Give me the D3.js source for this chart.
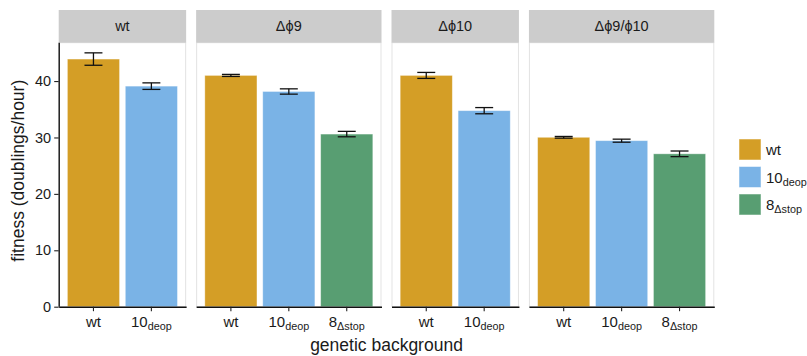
<!DOCTYPE html>
<html><head><meta charset="utf-8">
<script src="https://cdn.jsdelivr.net/npm/d3@7"></script>
<style>
body{margin:0;background:#fff;}
text{font-family:"Liberation Sans",Arial,Helvetica,sans-serif;}
</style></head>
<body><svg id="chart" width="807" height="356"></svg>
<script>
// ---- data ----
const panels = ["wt", "Δϕ9", "Δϕ10", "Δϕ9/ϕ10"];
const genotypes = ["wt", "10deop", "8stop"];
const panelGenotypes = [
  ["wt", "10deop"],
  ["wt", "10deop", "8stop"],
  ["wt", "10deop"],
  ["wt", "10deop", "8stop"]
];
const means = [
  [43.9, 39.1],
  [41.0, 38.15, 30.6],
  [41.0, 34.75],
  [30.03, 29.43, 27.1]
];
const errors = [
  [1.1, 0.58],
  [0.18, 0.47, 0.48],
  [0.53, 0.55],
  [0.15, 0.27, 0.5]
];
const yTicks = [0, 10, 20, 30, 40];
const genoLabel = {"wt": ["wt", ""], "10deop": ["10", "deop"], "8stop": ["8", "Δstop"]};
const colors = ["#D49E26", "#7AB3E6", "#589E72"];

// ---- layout ----
const svg = d3.select("#chart");
const pLeft = 58.7, pRight = 714.3, pTop = 42.7, pBottom = 306.7, stripTop = 10, gap = 10;
const color = d3.scaleOrdinal().domain(genotypes).range(colors);
const y = d3.scaleLinear().domain([0, 46.8]).range([pBottom, pTop]);

const units = panelGenotypes.map(g => g.length + 0.2);
const unit = (pRight - pLeft - gap * (panels.length - 1)) / d3.sum(units);
let x0 = pLeft;
const panelPos = units.map(u => { const p = {x: x0, w: u * unit}; x0 += u * unit + gap; return p; });

function subLabel(sel, main, sub, size) {
  sel.append("tspan").text(main);
  if (sub) sel.append("tspan").attr("dy", size * 0.22).attr("font-size", size * 0.72).text(sub);
}

panels.forEach((pn, i) => {
  const P = panelPos[i];
  const g = svg.append("g").attr("transform", `translate(${P.x},0)`);
  const x = d3.scaleBand().domain(panelGenotypes[i]).range([0, P.w]).paddingInner(0.1).paddingOuter(0.15);
  // panel border
  g.append("rect").attr("x", 0.5).attr("y", pTop).attr("width", P.w - 1).attr("height", pBottom - pTop)
    .attr("fill", "none").attr("stroke", "#E3E3E3").attr("stroke-width", 1);
  // strip
  g.append("rect").attr("x", 0).attr("y", stripTop).attr("width", P.w).attr("height", pTop - stripTop)
    .attr("fill", "#CCCCCC");
  g.append("text").attr("x", P.w / 2).attr("y", (stripTop + pTop) / 2 + 5).attr("text-anchor", "middle")
    .attr("font-size", 14.5).attr("fill", "#1a1a1a").text(pn);
  const rows = panelGenotypes[i].map((k, j) => ({k, m: means[i][j], e: errors[i][j]}));
  // bars
  g.selectAll("rect.bar").data(rows).enter().append("rect").attr("class", "bar")
    .attr("x", d => x(d.k)).attr("width", x.bandwidth())
    .attr("y", d => y(d.m)).attr("height", d => y(0) - y(d.m))
    .attr("fill", d => color(d.k)).attr("stroke", "rgba(255,255,255,0.45)").attr("stroke-width", 0.8);
  // error bars
  const cap = x.step() * 0.155;
  rows.forEach(d => {
    const cx = x(d.k) + x.bandwidth() / 2;
    const eg = g.append("g").attr("stroke", "#111").attr("stroke-width", 1.3).attr("fill", "none");
    eg.append("line").attr("x1", cx).attr("x2", cx).attr("y1", y(d.m + d.e)).attr("y2", y(d.m - d.e));
    eg.append("line").attr("x1", cx - cap).attr("x2", cx + cap).attr("y1", y(d.m + d.e)).attr("y2", y(d.m + d.e));
    eg.append("line").attr("x1", cx - cap).attr("x2", cx + cap).attr("y1", y(d.m - d.e)).attr("y2", y(d.m - d.e));
  });
  // x axis
  const ax = g.append("g").attr("transform", `translate(0,${pBottom})`)
    .call(d3.axisBottom(x).tickSize(4.5).tickSizeOuter(0).tickFormat(""));
  ax.select(".domain").attr("stroke", "#111").attr("stroke-width", 1.4);
  ax.selectAll(".tick line").attr("stroke", "#222").attr("stroke-width", 1.1);
  panelGenotypes[i].forEach(k => {
    const t = g.append("text").attr("x", x(k) + x.bandwidth() / 2).attr("y", pBottom + 20)
      .attr("text-anchor", "middle").attr("font-size", 15).attr("fill", "#1a1a1a");
    subLabel(t, genoLabel[k][0], genoLabel[k][1], 15);
  });
  if (i === 0) {
    const ay = g.append("g").call(d3.axisLeft(y).tickValues(yTicks).tickSize(4.5).tickSizeOuter(0).tickPadding(3));
    ay.select(".domain").attr("stroke", "#111").attr("stroke-width", 1.4).attr("d", `M0.5,${pTop}V${pBottom}`);
    ay.selectAll(".tick line").attr("stroke", "#222").attr("stroke-width", 1.1);
    ay.selectAll(".tick text").attr("font-size", 14.5).attr("fill", "#1a1a1a")
      .attr("font-family", '"Liberation Sans",Arial,sans-serif');
  }
});

// axis titles
svg.append("text").attr("x", (pLeft + pRight) / 2).attr("y", 351).attr("text-anchor", "middle")
  .attr("font-size", 17.5).attr("fill", "#1a1a1a").text("genetic background");
svg.append("text").attr("transform", `translate(24,${(pTop + pBottom) / 2 - 4}) rotate(-90)`)
  .attr("text-anchor", "middle").attr("font-size", 17.5).attr("fill", "#1a1a1a").text("fitness (doublings/hour)");

// legend
const lg = svg.append("g").attr("transform", "translate(739,139)");
genotypes.forEach((k, j) => {
  lg.append("rect").attr("x", 0).attr("y", j * 27.5).attr("width", 22).attr("height", 21)
    .attr("fill", color(k)).attr("stroke", "rgba(255,255,255,0.5)");
  const t = lg.append("text").attr("x", 27).attr("y", j * 27.5 + 16).attr("font-size", 15).attr("fill", "#1a1a1a");
  subLabel(t, genoLabel[k][0], genoLabel[k][1], 15);
});
</script></body></html>
